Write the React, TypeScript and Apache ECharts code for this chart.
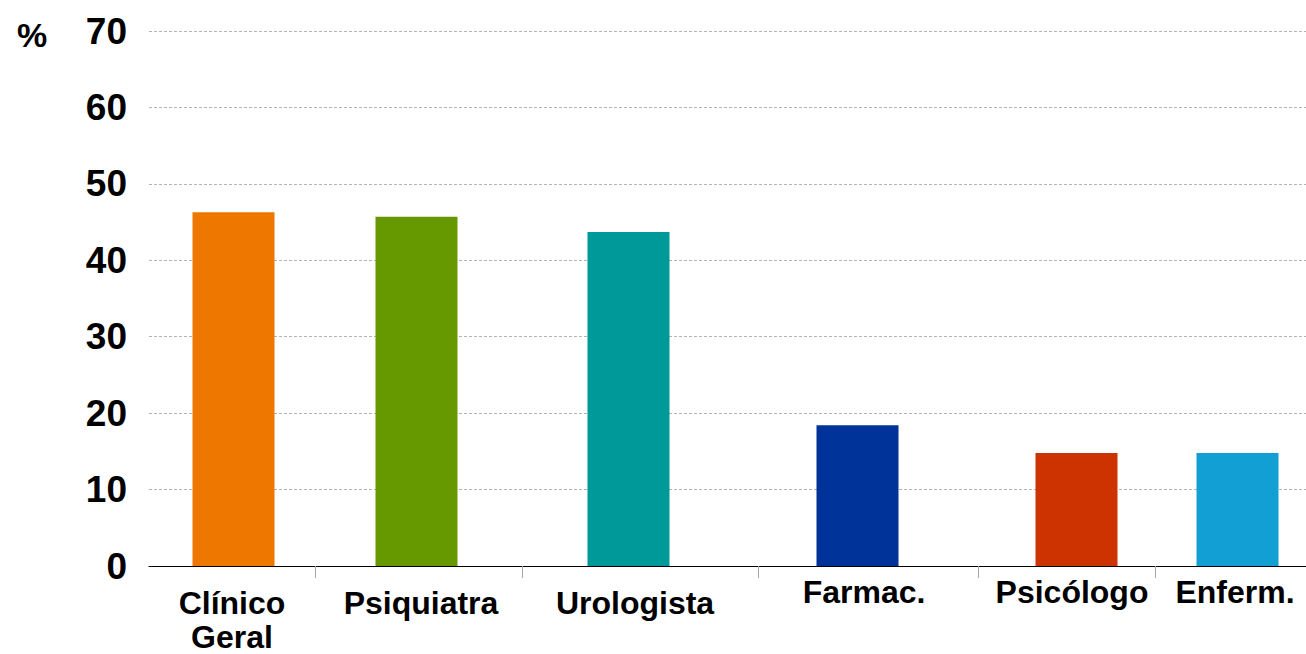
import React, { useEffect, useRef } from "react";
import * as echarts from "echarts";

// ---- data ----
const categories = ["Clínico\nGeral", "Psiquiatra", "Urologista", "Farmac.", "Psicólogo", "Enferm."];
const values = [46.3, 45.7, 43.7, 18.4, 14.8, 14.8];
const yTicks = [0, 10, 20, 30, 40, 50, 60, 70];

// ---- layout / style ----
const colors = ["#EE7700", "#669900", "#009999", "#003399", "#CC3300", "#129FD3"];
const axisSpan = 1157; // horizontal extent of the (unevenly spaced) category axis
const slotBoundaries = [166, 373, 609, 829, 1006];
const barPositions = [84.5, 267.5, 479.5, 708.5, 927.5, 1088.5];
const labelPositions = [83, 272, 486, 715, 923, 1086];
const loweredLabels = [true, true, true, false, false, false];
const FONT = "'Liberation Sans', Arial, Helvetica, sans-serif";

export default function App() {
  const ref = useRef<HTMLDivElement>(null);

  useEffect(() => {
    if (!ref.current) return;
    const chart = echarts.init(ref.current, null, { renderer: "svg" });
    const labelStyle = { fontSize: 32, fontWeight: "bold", fontFamily: FONT, color: "#000", lineHeight: 34 };
    chart.setOption({
      animation: false,
      backgroundColor: "#fff",
      grid: { left: 149, right: 0, top: 31, bottom: 88, containLabel: false },
      xAxis: {
        type: "value",
        min: 0,
        max: axisSpan,
        splitLine: { show: false },
        axisLine: { show: true, onZero: false, lineStyle: { color: "#000", width: 1.2 } },
        axisTick: {
          show: true,
          customValues: slotBoundaries,
          length: 12,
          lineStyle: { color: "#a6a6a6", width: 1 },
        },
        axisLabel: {
          customValues: labelPositions,
          margin: 9,
          formatter: (val: number) => {
            let idx = 0;
            let best = Infinity;
            labelPositions.forEach((p, i) => {
              const d = Math.abs(p - val);
              if (d < best) { best = d; idx = i; }
            });
            const lines = categories[idx].split("\n").map((l) => `{t|${l}}`);
            if (loweredLabels[idx]) lines.unshift("{sp| }");
            return lines.join("\n");
          },
          rich: {
            t: { ...labelStyle },
            sp: { fontSize: 1, lineHeight: 11, fontFamily: FONT },
          },
        },
      },
      yAxis: {
        type: "value",
        min: yTicks[0],
        max: yTicks[yTicks.length - 1],
        interval: 10,
        axisLine: { show: false },
        axisTick: { show: false },
        axisLabel: {
          margin: 22,
          fontSize: 37,
          fontWeight: "bold",
          fontFamily: FONT,
          color: "#000",
        },
        splitLine: {
          show: true,
          lineStyle: { color: "#b3b3b3", width: 1, type: [3, 2] },
        },
      },
      graphic: [
        {
          type: "text",
          left: 17,
          top: 18,
          style: { text: "%", fontSize: 34, fontWeight: "bold", fontFamily: FONT, fill: "#000" },
        },
      ],
      series: [
        {
          type: "bar",
          barWidth: 82,
          data: values.map((v, i) => ({
            value: [barPositions[i], v],
            itemStyle: { color: colors[i] },
          })),
        },
      ],
    });
    return () => chart.dispose();
  }, []);

  return <div ref={ref} style={{ position: "fixed", left: 0, top: 0, width: 1306, height: 654 }} />;
}
